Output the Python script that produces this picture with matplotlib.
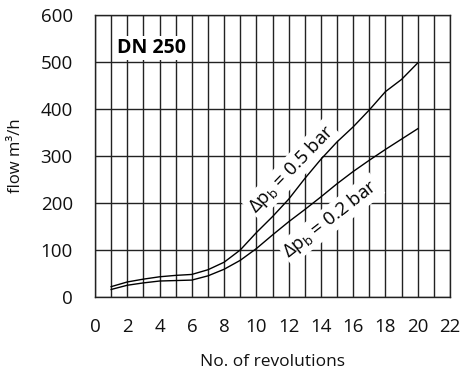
import matplotlib
matplotlib.use("Agg")
import matplotlib.pyplot as plt

plt.rcParams['font.family'] = ['Open Sans', 'DejaVu Sans']
plt.rcParams['mathtext.fontset'] = 'custom'
plt.rcParams['mathtext.rm'] = 'Open Sans'

# flow curves for DN 250, read per revolution
revolutions = [1, 2, 3, 4, 5, 6, 7, 8, 9, 10, 11, 12, 13, 14, 15, 16, 17, 18, 19, 20]
flow_05bar = [22, 32, 38, 43, 46, 48, 58, 74, 100, 137, 171, 208, 252, 293, 330, 362, 398, 437, 463, 498]
flow_02bar = [16, 25, 30, 34, 35, 36, 45, 59, 78, 103, 132, 160, 186, 213, 241, 267, 291, 314, 336, 358]

x_ticks = list(range(0, 23, 2))
y_ticks = list(range(0, 601, 100))

grid_col = '#222222'
txt_col = '#111111'

fig = plt.figure(figsize=(4.62, 3.69), dpi=100)
ax = fig.add_axes([95 / 462, 1 - 297 / 369, 355 / 462, 282 / 369])

ax.set_xlim(0, 22)
ax.set_ylim(0, 600)
ax.set_xticks(x_ticks)
ax.set_xticks(range(0, 23), minor=True)
ax.set_yticks(y_ticks)
ax.grid(True, which='both', axis='x', color=grid_col, lw=1.0, zorder=0)
ax.grid(True, which='major', axis='y', color=grid_col, lw=1.0, zorder=0)
ax.set_axisbelow(True)
ax.tick_params(which='both', length=0, labelsize=13.5, colors=txt_col)
ax.tick_params(axis='x', pad=15)
ax.tick_params(axis='y', pad=16)
for s in ax.spines.values():
    s.set_color(grid_col)
    s.set_linewidth(1.0)

ax.plot(revolutions, flow_05bar, color='black', lw=1.0, zorder=4)
ax.plot(revolutions, flow_02bar, color='black', lw=1.0, zorder=4)

box = dict(facecolor='white', edgecolor='none', pad=1.5)
ax.text(1.35, 530, 'DN 250', fontsize=14, fontweight='bold', va='center', ha='left',
        bbox=box, zorder=3)
ax.text(12.2, 272, r'$\Delta$p$_\mathregular{b}$ = 0.5 bar', fontsize=13.5, rotation=46,
        ha='center', va='center', rotation_mode='anchor', bbox=box, zorder=3)
ax.text(14.6, 166, r'$\Delta$p$_\mathregular{b}$ = 0.2 bar', fontsize=13.5, rotation=38,
        ha='center', va='center', rotation_mode='anchor', bbox=box, zorder=3)

ax.set_xlabel('No. of revolutions', fontsize=12.5, labelpad=13, color=txt_col)
ax.set_ylabel('flow m³/h', fontsize=12, labelpad=12, color=txt_col)

fig.savefig('out.png', dpi=100)
